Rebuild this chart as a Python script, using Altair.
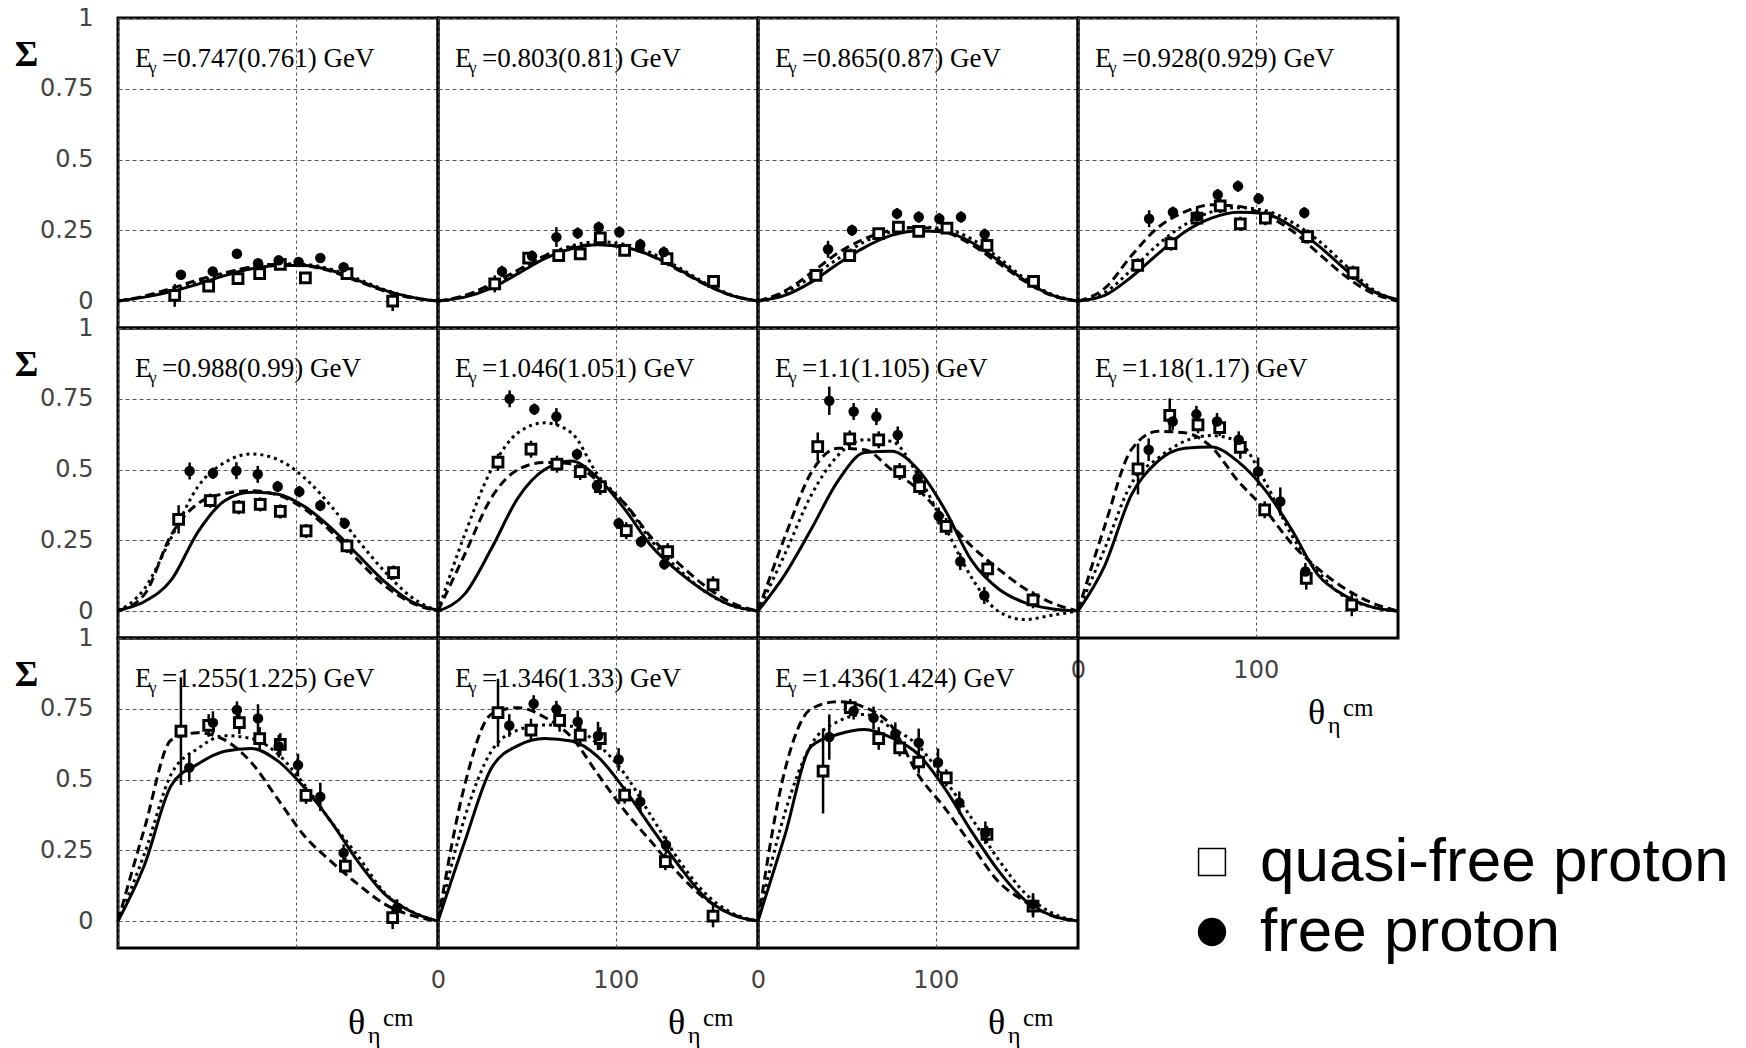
import altair as alt
import pandas as pd

# ---------------- data ----------------
energy_qf = ["0.747", "0.803", "0.865", "0.928", "0.988", "1.046", "1.1", "1.18", "1.255", "1.346", "1.436"]
energy_free = ["0.761", "0.81", "0.87", "0.929", "0.99", "1.051", "1.105", "1.17", "1.225", "1.33", "1.424"]

theta_grid = [0, 15, 30, 45, 60, 75, 90, 105, 120, 135, 150, 165, 180]

solid_curves = [
    [0, 0.014, 0.034, 0.06, 0.09, 0.114, 0.126, 0.126, 0.108, 0.073, 0.038, 0.014, 0],
    [0, 0.014, 0.046, 0.097, 0.15, 0.185, 0.199, 0.19, 0.161, 0.114, 0.061, 0.02, 0],
    [0, 0.02, 0.067, 0.132, 0.19, 0.232, 0.248, 0.244, 0.208, 0.144, 0.073, 0.022, 0],
    [0, 0.02, 0.085, 0.167, 0.244, 0.293, 0.314, 0.309, 0.265, 0.197, 0.114, 0.038, 0.005],
    [0.003, 0.034, 0.11, 0.28, 0.39, 0.42, 0.413, 0.369, 0.293, 0.198, 0.104, 0.034, 0.003],
    [0, 0.06, 0.22, 0.4, 0.5, 0.53, 0.47, 0.36, 0.23, 0.14, 0.07, 0.02, 0],
    [0, 0.128, 0.29, 0.46, 0.56, 0.565, 0.5, 0.36, 0.18, 0.08, 0.03, 0.008, 0],
    [0, 0.16, 0.41, 0.53, 0.575, 0.58, 0.528, 0.43, 0.29, 0.128, 0.055, 0.015, 0],
    [0, 0.2, 0.48, 0.555, 0.6, 0.61, 0.565, 0.47, 0.35, 0.21, 0.095, 0.033, 0],
    [0, 0.28, 0.54, 0.62, 0.645, 0.636, 0.58, 0.465, 0.33, 0.2, 0.085, 0.024, 0],
    [0, 0.3, 0.618, 0.66, 0.677, 0.648, 0.59, 0.47, 0.318, 0.18, 0.075, 0.02, 0],
]
dashed_curves = [
    [0, 0.018, 0.045, 0.075, 0.1, 0.12, 0.13, 0.125, 0.105, 0.07, 0.035, 0.012, 0],
    [0, 0.02, 0.06, 0.11, 0.16, 0.19, 0.2, 0.19, 0.16, 0.11, 0.06, 0.02, 0],
    [0, 0.035, 0.1, 0.17, 0.22, 0.25, 0.26, 0.245, 0.2, 0.135, 0.07, 0.02, 0],
    [0, 0.045, 0.16, 0.26, 0.315, 0.34, 0.335, 0.305, 0.25, 0.17, 0.09, 0.03, 0],
    [0, 0.06, 0.27, 0.38, 0.415, 0.425, 0.41, 0.36, 0.28, 0.18, 0.09, 0.03, 0],
    [0, 0.2, 0.4, 0.5, 0.525, 0.52, 0.46, 0.38, 0.26, 0.17, 0.09, 0.03, 0],
    [0, 0.26, 0.49, 0.575, 0.57, 0.5, 0.43, 0.33, 0.23, 0.15, 0.08, 0.03, 0],
    [0, 0.3, 0.57, 0.635, 0.63, 0.58, 0.46, 0.36, 0.24, 0.15, 0.08, 0.03, 0],
    [0, 0.33, 0.64, 0.665, 0.64, 0.56, 0.43, 0.3, 0.21, 0.13, 0.06, 0.02, 0],
    [0, 0.48, 0.73, 0.754, 0.72, 0.65, 0.518, 0.39, 0.28, 0.17, 0.08, 0.025, 0],
    [0, 0.53, 0.75, 0.775, 0.755, 0.69, 0.518, 0.4, 0.27, 0.141, 0.07, 0.02, 0],
]
dotted_curves = [
    [0, 0.016, 0.04, 0.068, 0.097, 0.12, 0.132, 0.13, 0.112, 0.078, 0.04, 0.014, 0],
    [0, 0.018, 0.055, 0.105, 0.16, 0.195, 0.21, 0.2, 0.17, 0.12, 0.065, 0.022, 0],
    [0, 0.03, 0.085, 0.15, 0.21, 0.245, 0.262, 0.255, 0.22, 0.155, 0.08, 0.025, 0],
    [0, 0.03, 0.11, 0.2, 0.27, 0.315, 0.33, 0.32, 0.28, 0.215, 0.13, 0.045, 0],
    [0, 0.08, 0.26, 0.44, 0.525, 0.555, 0.535, 0.47, 0.37, 0.25, 0.14, 0.05, 0],
    [0, 0.27, 0.5, 0.63, 0.665, 0.63, 0.48, 0.38, 0.25, 0.15, 0.07, 0.02, 0],
    [0, 0.2, 0.41, 0.55, 0.605, 0.6, 0.48, 0.3, 0.12, 0.0, -0.03, -0.015, 0],
    [0, 0.22, 0.45, 0.54, 0.6, 0.62, 0.6, 0.46, 0.27, 0.14, 0.05, 0.015, 0],
    [0, 0.24, 0.52, 0.61, 0.655, 0.645, 0.59, 0.48, 0.35, 0.23, 0.1, 0.035, 0],
    [0, 0.365, 0.6, 0.675, 0.693, 0.688, 0.624, 0.52, 0.37, 0.22, 0.1, 0.03, 0],
    [0, 0.38, 0.624, 0.705, 0.73, 0.683, 0.62, 0.5, 0.365, 0.22, 0.1, 0.03, 0],
]

# quasi-free proton (open squares)
qf_theta = [
    [31.9, 51.0, 67.5, 79.7, 91.3, 105.4, 128.8, 154.5],
    [31.9, 51.0, 67.9, 80.0, 91.3, 105.0, 128.8, 155.0],
    [32.6, 51.6, 67.9, 79.0, 90.4, 106.3, 128.8, 155.0],
    [33.6, 52.3, 66.9, 80.0, 91.3, 105.4, 129.2, 154.7],
    [34.1, 51.9, 67.9, 80.0, 91.3, 105.8, 128.8, 155.0],
    [33.75, 52.3, 66.9, 80.0, 91.3, 105.9, 129.2, 154.7],
    [33.6, 51.6, 67.9, 79.7, 90.9, 105.8, 129.2, 154.7],
    [33.75, 51.6, 67.5, 79.7, 91.3, 105.0, 128.4, 154.0],
    [35.4, 51.0, 68.25, 79.7, 91.3, 105.75, 127.9, 154.5],
    [33.75, 52.3, 68.4, 80.0, 91.3, 105.0, 127.9, 154.7],
    [36.6, 51.9, 67.9, 79.7, 90.4, 105.9, 128.8, 154.7],
]
qf_sigma = [
    [0.02, 0.053, 0.079, 0.097, 0.13, 0.082, 0.097, 0.0],
    [0.061, 0.152, 0.161, 0.167, 0.223, 0.179, 0.15, 0.07],
    [0.091, 0.161, 0.238, 0.261, 0.246, 0.258, 0.197, 0.07],
    [0.126, 0.203, 0.293, 0.336, 0.273, 0.293, 0.228, 0.1],
    [0.324, 0.39, 0.367, 0.377, 0.352, 0.283, 0.23, 0.136],
    [0.526, 0.572, 0.519, 0.493, 0.44, 0.284, 0.21, 0.093],
    [0.581, 0.608, 0.605, 0.493, 0.44, 0.299, 0.149, 0.04],
    [0.502, 0.691, 0.658, 0.648, 0.578, 0.358, 0.116, 0.022],
    [0.671, 0.691, 0.701, 0.645, 0.624, 0.444, 0.194, 0.012],
    [0.736, 0.675, 0.709, 0.657, 0.645, 0.445, 0.21, 0.018],
    [0.53, 0.754, 0.645, 0.612, 0.562, 0.506, 0.306, 0.053],
]
qf_err = [
    [0.04, 0.02, 0.02, 0.02, 0.02, 0.02, 0.02, 0.035],
    [0.03, 0.02, 0.02, 0.02, 0.02, 0.02, 0.02, 0.02],
    [0.02, 0.02, 0.02, 0.02, 0.02, 0.02, 0.02, 0.02],
    [0.025, 0.025, 0.025, 0.025, 0.025, 0.025, 0.025, 0.025],
    [0.05, 0.025, 0.025, 0.025, 0.025, 0.025, 0.025, 0.025],
    [0.03, 0.03, 0.03, 0.03, 0.03, 0.03, 0.03, 0.03],
    [0.05, 0.03, 0.03, 0.03, 0.03, 0.03, 0.03, 0.03],
    [0.09, 0.06, 0.03, 0.03, 0.04, 0.03, 0.04, 0.04],
    [0.19, 0.04, 0.04, 0.04, 0.04, 0.03, 0.03, 0.04],
    [0.12, 0.04, 0.04, 0.04, 0.04, 0.03, 0.03, 0.04],
    [0.15, 0.03, 0.04, 0.03, 0.04, 0.03, 0.03, 0.04],
]

# free proton (filled circles)
fp_theta = [
    [35.4, 53.3, 66.9, 78.8, 90.4, 101.6, 113.8, 126.9],
    [36.0, 52.9, 66.6, 78.6, 90.4, 102.0, 113.8, 127.0],
    [39.4, 52.9, 78.2, 90.4, 102.0, 114.2, 127.5],
    [40.0, 53.4, 67.0, 78.6, 90.0, 101.6, 127.3],
    [40.3, 53.4, 66.6, 78.6, 89.8, 102.0, 113.8, 127.5],
    [40.3, 54.2, 66.6, 78.2, 89.4, 101.6, 114.2, 127.3],
    [40.1, 53.8, 66.6, 78.6, 89.8, 101.6, 113.8, 127.3],
    [39.75, 53.25, 66.6, 78.2, 90.4, 101.3, 113.8, 127.9],
    [40.1, 53.4, 66.9, 78.75, 90.4, 101.25, 113.8, 126.9, 157.0],
    [40.1, 53.8, 66.6, 78.6, 90.0, 101.6, 113.8, 128.25],
    [40.1, 53.8, 65.0, 77.25, 90.4, 101.25, 113.25, 127.9, 154.7],
]
fp_sigma = [
    [0.093, 0.105, 0.167, 0.134, 0.144, 0.138, 0.152, 0.12],
    [0.105, 0.159, 0.226, 0.24, 0.261, 0.244, 0.2, 0.173],
    [0.183, 0.25, 0.309, 0.297, 0.291, 0.297, 0.236],
    [0.291, 0.314, 0.3, 0.376, 0.406, 0.362, 0.312],
    [0.495, 0.487, 0.496, 0.483, 0.44, 0.422, 0.373, 0.31],
    [0.75, 0.713, 0.687, 0.554, 0.443, 0.31, 0.245, 0.166],
    [0.743, 0.705, 0.687, 0.622, 0.469, 0.336, 0.175, 0.055],
    [0.57, 0.67, 0.695, 0.67, 0.605, 0.493, 0.387, 0.14],
    [0.542, 0.701, 0.746, 0.716, 0.618, 0.551, 0.439, 0.241, 0.047],
    [0.691, 0.768, 0.748, 0.704, 0.654, 0.571, 0.422, 0.269],
    [0.65, 0.742, 0.718, 0.662, 0.63, 0.56, 0.418, 0.312, 0.059],
]
fp_err = [
    [0.015, 0.015, 0.015, 0.015, 0.015, 0.015, 0.015, 0.015],
    [0.02, 0.02, 0.035, 0.02, 0.02, 0.02, 0.02, 0.02],
    [0.03, 0.02, 0.02, 0.02, 0.02, 0.02, 0.02],
    [0.03, 0.02, 0.03, 0.02, 0.02, 0.02, 0.02],
    [0.03, 0.02, 0.03, 0.03, 0.02, 0.02, 0.02, 0.02],
    [0.03, 0.02, 0.03, 0.02, 0.02, 0.02, 0.02, 0.02],
    [0.05, 0.03, 0.03, 0.03, 0.03, 0.03, 0.03, 0.03],
    [0.04, 0.03, 0.03, 0.03, 0.03, 0.05, 0.05, 0.03],
    [0.05, 0.04, 0.03, 0.05, 0.04, 0.04, 0.05, 0.03, 0.03],
    [0.04, 0.03, 0.03, 0.04, 0.05, 0.04, 0.04, 0.03],
    [0.08, 0.03, 0.04, 0.04, 0.05, 0.05, 0.04, 0.04, 0.04],
]

legend_labels = ["quasi-free proton", "free proton"]
y_ticks = [0, 0.25, 0.5, 0.75, 1]
x_ticks = [0, 100]

# ---------------- styling ----------------
W, H = 320, 310
SERIF = "Liberation Serif"
SANS = "DejaVu Sans"
LBL_COLOR = "#444444"


def make_panel(i):
    row, col = divmod(i, 4)
    show_y = col == 0
    show_xlabels = i in (7, 9, 10)
    show_xtitle = i in (7, 8, 9, 10)

    xaxis = alt.Axis(values=x_ticks, grid=True, gridDash=[3, 3], gridColor="#555555",
                     gridWidth=1, labels=show_xlabels, ticks=False, tickSize=0, domain=False,
                     title="", labelFlush=False, labelPadding=20, labelFont=SANS,
                     labelFontSize=24, labelColor=LBL_COLOR, format="d")
    yargs = dict(values=y_ticks, grid=True, gridDash=[4, 3], gridColor="#555555", gridWidth=1,
                 labels=show_y, ticks=False, tickSize=0, domain=False, labelFlush=False,
                 labelPadding=25, labelFont=SANS, labelFontSize=24, labelColor=LBL_COLOR,
                 format=".2~f")
    if show_y:
        yargs.update(title="Σ", titleAngle=0, titleX=-92, titleY=36, titleAlign="center",
                     titleBaseline="middle", titleFont=SERIF, titleFontSize=36,
                     titleFontWeight="bold", titleColor="black")
    else:
        yargs.update(title="")
    yaxis = alt.Axis(**yargs)
    xs = alt.Scale(domain=[0, 180], nice=False, zero=False)
    ys = alt.Scale(domain=[-0.095, 1], nice=False, zero=False)

    def X(f):
        return alt.X(f"{f}:Q", scale=xs, axis=xaxis)

    def Y(f):
        return alt.Y(f"{f}:Q", scale=ys, axis=yaxis)

    layers = []
    for curves, dash in ((solid_curves, None), (dashed_curves, [9, 5]), (dotted_curves, [3, 4])):
        df = pd.DataFrame({"theta": theta_grid, "sigma": curves[i]})
        kw = dict(color="black", strokeWidth=3, interpolate="monotone")
        if dash is not None:
            kw["strokeDash"] = dash
        layers.append(alt.Chart(df).mark_line(**kw).encode(x=X("theta"), y=Y("sigma")))

    qf = pd.DataFrame({"theta": qf_theta[i], "sigma": qf_sigma[i], "err": qf_err[i]})
    fp = pd.DataFrame({"theta": fp_theta[i], "sigma": fp_sigma[i], "err": fp_err[i]})
    for df in (qf, fp):
        df["lo"] = df["sigma"] - df["err"]
        df["hi"] = df["sigma"] + df["err"]
        layers.append(alt.Chart(df).mark_rule(color="black", strokeWidth=2.5).encode(
            x=X("theta"), y=Y("lo"), y2=alt.Y2("hi")))

    layers.append(alt.Chart(qf).mark_point(shape="square", fill="white", stroke="black",
                                           strokeWidth=3, size=95, opacity=1, fillOpacity=1)
                  .encode(x=X("theta"), y=Y("sigma")))
    layers.append(alt.Chart(fp).mark_point(shape="circle", filled=True, color="black",
                                           size=110, opacity=1)
                  .encode(x=X("theta"), y=Y("sigma")))

    # panel label  E_gamma =a(b) GeV
    lab = pd.DataFrame({"e": ["E"], "g": ["γ"],
                        "rest": [f"={energy_qf[i]}({energy_free[i]}) GeV"]})
    layers.append(alt.Chart(lab).mark_text(font=SERIF, fontSize=27, align="left",
                                           baseline="alphabetic", color="black")
                  .encode(x=alt.value(17), y=alt.value(49), text="e:N"))
    layers.append(alt.Chart(lab).mark_text(font=SERIF, fontSize=17, align="left",
                                           baseline="alphabetic", color="black")
                  .encode(x=alt.value(31), y=alt.value(55), text="g:N"))
    layers.append(alt.Chart(lab).mark_text(font=SERIF, fontSize=27, align="left",
                                           baseline="alphabetic", color="black")
                  .encode(x=alt.value(44), y=alt.value(49), text="rest:N"))

    if show_xtitle:
        tt = pd.DataFrame({"t": ["θ"], "s": ["η"], "c": ["cm"]})
        layers.append(alt.Chart(tt).mark_text(font=SERIF, fontSize=36, align="left",
                                              baseline="alphabetic", color="black")
                      .encode(x=alt.value(230), y=alt.value(396), text="t:N"))
        layers.append(alt.Chart(tt).mark_text(font=SERIF, fontSize=24, align="left",
                                              baseline="alphabetic", color="black")
                      .encode(x=alt.value(250), y=alt.value(405), text="s:N"))
        layers.append(alt.Chart(tt).mark_text(font=SERIF, fontSize=25, align="left",
                                              baseline="alphabetic", color="black")
                      .encode(x=alt.value(265), y=alt.value(388), text="c:N"))

    return alt.layer(*layers).properties(width=W, height=H)


def make_legend():
    df = pd.DataFrame({"entry": legend_labels})
    yscale = alt.Scale(domain=legend_labels, range=[224, 294], padding=0)
    pts = alt.Chart(df).mark_point(stroke="black", strokeWidth=1.5, opacity=1, fillOpacity=1,
                                   size=720).encode(
        x=alt.value(134),
        y=alt.Y("entry:N", scale=yscale, axis=None),
        shape=alt.Shape("entry:N", scale=alt.Scale(domain=legend_labels,
                                                   range=["square", "circle"]), legend=None),
        fill=alt.Fill("entry:N", scale=alt.Scale(domain=legend_labels,
                                                 range=["white", "black"]), legend=None),
    )
    txt = alt.Chart(df).mark_text(align="left", baseline="middle", font="Liberation Sans",
                                  fontSize=62, color="black").encode(
        x=alt.value(182),
        y=alt.Y("entry:N", scale=yscale, axis=None),
        text="entry:N",
    )
    return alt.layer(pts, txt).properties(width=W, height=H,
                                          view=alt.ViewBackground(stroke="transparent"))


panels = [make_panel(i) for i in range(11)]
chart = alt.concat(*panels, make_legend(), columns=4, spacing=0, bounds="flush").resolve_scale(
    x="independent", y="independent", shape="independent", fill="independent"
).properties(
    padding={"left": 12, "top": 4, "right": 5, "bottom": 0},
    background="white",
).configure_view(stroke="black", strokeWidth=3)

chart.save("out.html", embed_options={"renderer": "svg", "actions": False})
